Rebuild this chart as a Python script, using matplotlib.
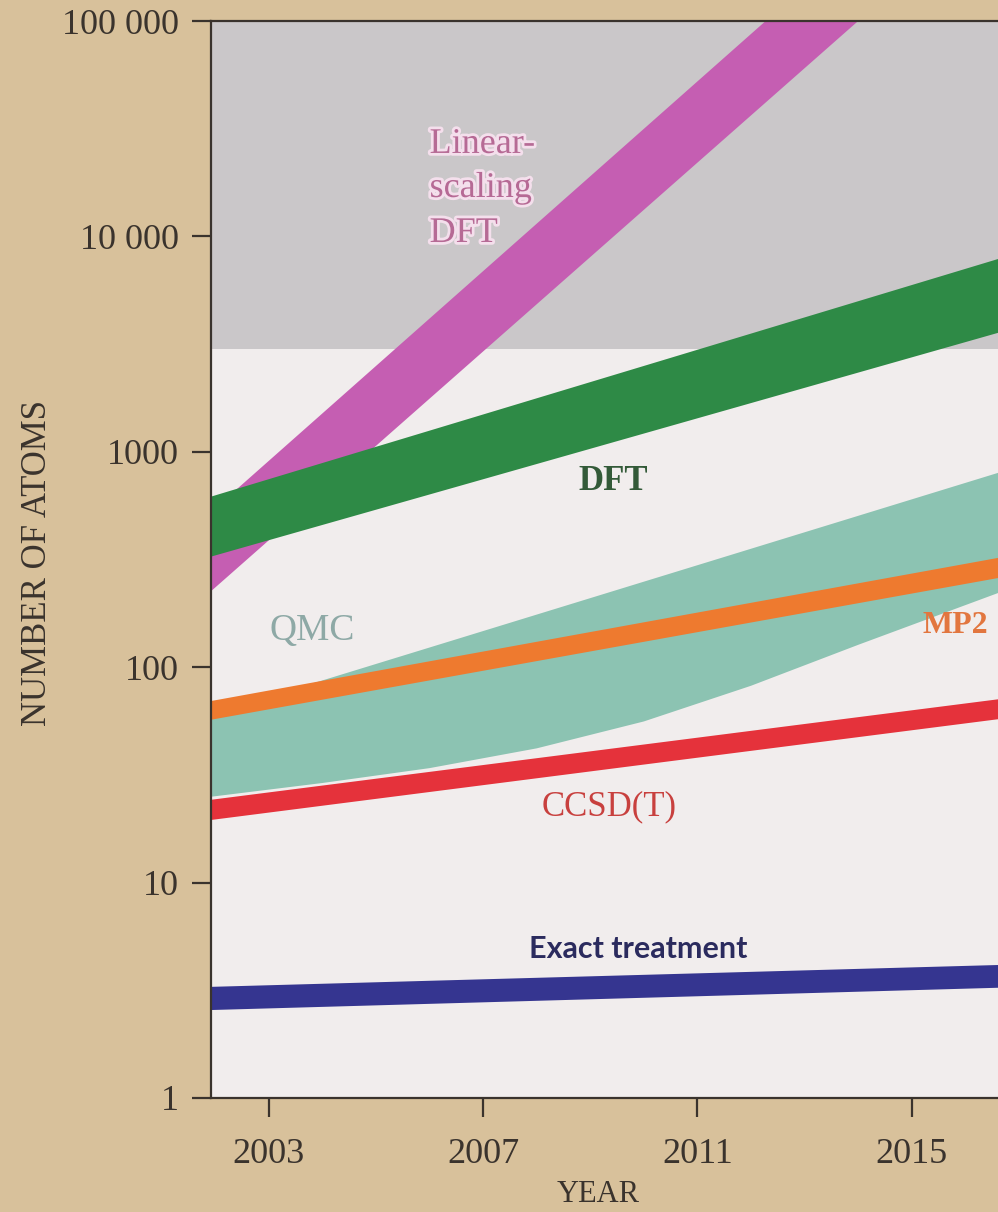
import matplotlib
matplotlib.use("Agg")
import matplotlib.pyplot as plt
import matplotlib.patheffects as pe

# ---------------------------------------------------------------- data
year_ticks = [2003, 2007, 2011, 2015]
atom_ticks = [1, 10, 100, 1000, 10000, 100000]
atom_tick_labels = ["1", "10", "100", "1000", "10 000", "100 000"]

# range reachable only with massively parallel resources (shaded)
large_system_floor = 3000

# each method: band of system sizes (lower / upper bound) per year
ls_dft_years = [2001.9, 2014]
ls_dft_low = [223, 100000]
ls_dft_high = [520, 240000]

dft_years = [2001.9, 2017]
dft_low = [325, 3800]
dft_high = [617, 8400]

qmc_low_years = [2001.9, 2004, 2006, 2008, 2010, 2012, 2014, 2017]
qmc_low = [25, 29, 34, 42, 56, 82, 127, 240]
qmc_high_years = [2001.9, 2017]
qmc_high = [60, 855]

mp2_years = [2001.9, 2017]
mp2_low = [56.9, 270]
mp2_high = [69.5, 335]

ccsdt_years = [2001.9, 2017]
ccsdt_low = [19.5, 59]
ccsdt_high = [24.2, 73]

exact_years = [2001.9, 2017]
exact_low = [2.56, 3.27]
exact_high = [3.28, 4.17]

# ---------------------------------------------------------------- style
PAGE = "#d8c19b"
GRAY_ZONE = "#cac7c9"
WHITE_ZONE = "#f1eded"
INK = "#3a332d"

plt.rcParams["font.family"] = ["Liberation Serif", "DejaVu Serif"]

W, H = 998, 1212
fig = plt.figure(figsize=(W / 100, H / 100), dpi=100)
fig.patch.set_facecolor(PAGE)

left_px, top_px, bottom_px = 211, 21, 1098
ax = fig.add_axes([left_px / W, 1 - bottom_px / H,
                   1 - left_px / W, (bottom_px - top_px) / H])
ax.set_yscale("log")
ax.set_xlim(2001.92, 2016.61)
ax.set_ylim(1, 100000)
ax.set_facecolor(WHITE_ZONE)

ax.axhspan(large_system_floor, 100000, color=GRAY_ZONE, lw=0, zorder=0)


def band(years_lo, lo, years_hi, hi, color, z):
    """Filled band between a lower and an upper boundary curve."""
    xs = list(years_lo) + list(years_hi)[::-1]
    ys = list(lo) + list(hi)[::-1]
    ax.fill(xs, ys, color=color, lw=0, zorder=z)


band(ls_dft_years, ls_dft_low, ls_dft_years, ls_dft_high, "#c55eb2", 2)
band(dft_years, dft_low, dft_years, dft_high, "#2e8a46", 3)
band(qmc_low_years, qmc_low, qmc_high_years, qmc_high, "#8cc3b2", 4)
band(mp2_years, mp2_low, mp2_years, mp2_high, "#ee7a2f", 5)
band(ccsdt_years, ccsdt_low, ccsdt_years, ccsdt_high, "#e5323b", 6)
band(exact_years, exact_low, exact_years, exact_high, "#353590", 7)

# ---------------------------------------------------------------- axes
for side in ("left", "bottom", "top"):
    ax.spines[side].set_color(INK)
    ax.spines[side].set_linewidth(1.6)
    ax.spines[side].set_zorder(20)
ax.spines["right"].set_visible(False)

ax.set_xticks(year_ticks)
ax.set_xticklabels([str(y) for y in year_ticks])
ax.set_yticks(atom_ticks)
ax.set_yticklabels(atom_tick_labels)
ax.minorticks_off()
ax.tick_params(axis="both", direction="out", length=14, width=1.6,
               colors=INK, labelsize=26)
ax.tick_params(axis="y", pad=9)
ax.tick_params(axis="x", pad=15)

fig.text(38 / W, 1 - 563 / H, "NUMBER OF ATOMS", rotation=90,
         ha="center", va="center", fontsize=25, color=INK)
fig.text(598 / W, 1 - 1195 / H, "YEAR", ha="center", va="center",
         fontsize=22, color=INK)

# ---------------------------------------------------------------- labels
glow = [pe.withStroke(linewidth=4, foreground="#f4dfec")]
for txt, yv in (("Linear-", 24400), ("scaling", 15240), ("DFT", 9420)):
    ax.text(2006.0, yv, txt, ha="left", va="baseline", fontsize=26,
            color="#b66a95", path_effects=glow, zorder=30)

ax.text(2009.42, 665, "DFT", ha="center", va="baseline", fontsize=25,
        fontweight="bold", color="#335a38", zorder=30)
ax.text(2003.81, 134, "QMC", ha="center", va="baseline", fontsize=27,
        color="#8ea9a6", zorder=30)
ax.text(2015.81, 144, "MP2", ha="center", va="baseline", fontsize=23,
        fontweight="bold", color="#e2763f", zorder=30)
ax.text(2009.36, 20.6, "CCSD(T)", ha="center", va="baseline", fontsize=25,
        color="#c8403e", zorder=30)
ax.text(2009.9, 4.47, "Exact treatment", ha="center", va="baseline",
        fontsize=22, fontweight="bold", family=["Lato", "DejaVu Sans"],
        color="#2b2b5e", zorder=30)

fig.savefig("out.png", dpi=100, facecolor=PAGE)
